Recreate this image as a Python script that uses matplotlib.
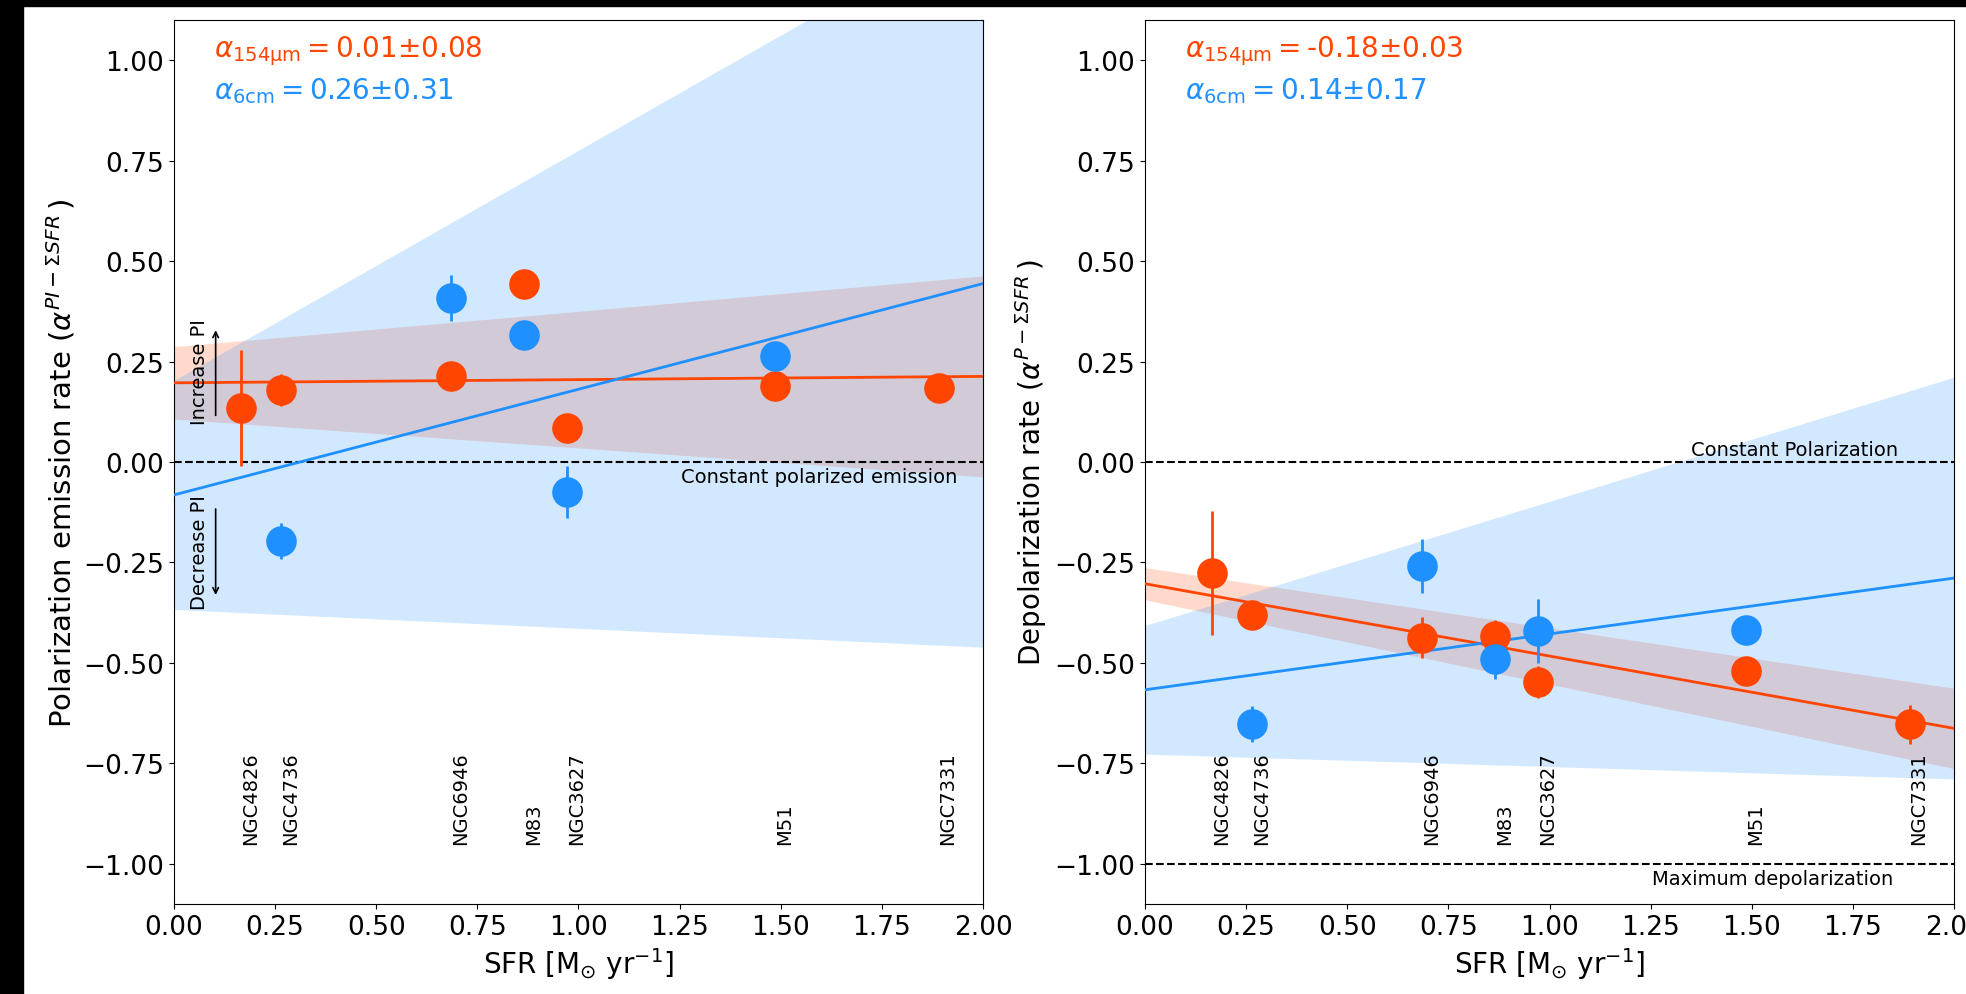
import numpy as np
import matplotlib
matplotlib.use("Agg")
import matplotlib.pyplot as plt
from matplotlib.patches import Rectangle

# galaxies and star formation rates
galaxies = ["NGC4826", "NGC4736", "NGC6946", "M83", "NGC3627", "M51", "NGC7331"]
sfr = [0.165, 0.265, 0.685, 0.866, 0.971, 1.486, 1.89]

# panel 1: polarization emission rate
pi_154_sfr = [0.165, 0.265, 0.685, 0.866, 0.971, 1.486, 1.89]
pi_154 = [0.134, 0.180, 0.215, 0.443, 0.084, 0.189, 0.183]
pi_154_err = [0.145, 0.04, 0.025, 0.02, 0.02, 0.02, 0.02]
pi_6_sfr = [0.265, 0.685, 0.866, 0.971, 1.486]
pi_6 = [-0.197, 0.408, 0.315, -0.074, 0.264]
pi_6_err = [0.045, 0.058, 0.02, 0.065, 0.02]

# panel 2: depolarization rate
p_154_sfr = [0.165, 0.265, 0.685, 0.866, 0.971, 1.486, 1.89]
p_154 = [-0.277, -0.381, -0.437, -0.434, -0.548, -0.519, -0.653]
p_154_err = [0.154, 0.03, 0.05, 0.04, 0.04, 0.03, 0.048]
p_6_sfr = [0.265, 0.685, 0.866, 0.971, 1.486]
p_6 = [-0.653, -0.259, -0.491, -0.420, -0.419]
p_6_err = [0.045, 0.068, 0.05, 0.08, 0.02]

# fits: slope, slope error, intercept, intercept error
fit_pi_154 = (0.008, 0.08, 0.197, 0.09)
fit_pi_6 = (0.263, 0.31, -0.082, 0.285)
fit_p_154 = (-0.18, 0.03, -0.303, 0.04)
fit_p_6 = (0.139, 0.17, -0.567, 0.16)

label_pi_154 = "0.01\u00b10.08"
label_pi_6 = "0.26\u00b10.31"
label_p_154 = "-0.18\u00b10.03"
label_p_6 = "0.14\u00b10.17"

orange = "#FF4500"
blue = "#1E90FF"

fig = plt.figure(figsize=(19.66, 9.95), dpi=100)
ax1 = fig.add_axes([0.0885, 0.0905, 0.4115, 0.8884])
ax2 = fig.add_axes([0.5824, 0.0905, 0.4115, 0.8884])

xx = np.linspace(0, 2, 200)


def draw_panel(ax, x154, y154, e154, x6, y6, e6, f154, f6, t154, t6):
    m, dm, b, db = f154
    ax.fill_between(xx, (b + db) + (m + dm) * xx, (b - db) + (m - dm) * xx,
                    color=orange, alpha=0.2, lw=0, zorder=1)
    m6, dm6, b6, db6 = f6
    ax.fill_between(xx, (b6 + db6) + (m6 + dm6) * xx, (b6 - db6) + (m6 - dm6) * xx,
                    color=blue, alpha=0.2, lw=0, zorder=1.5)
    ax.plot(xx, b + m * xx, color=orange, lw=2, zorder=3)
    ax.plot(xx, b6 + m6 * xx, color=blue, lw=2, zorder=3)
    ax.errorbar(x154, y154, yerr=e154, fmt="o", color=orange, ms=21, elinewidth=2,
                capsize=0, zorder=4)
    ax.errorbar(x6, y6, yerr=e6, fmt="o", color=blue, ms=21, elinewidth=2,
                capsize=0, zorder=4)
    ax.axhline(0, color="k", ls="--", lw=1.5, zorder=2)
    for g, s in zip(galaxies, sfr):
        ax.text(s, -0.95, g, rotation=90, ha="left", va="bottom", fontsize=14)
    ax.text(0.1, 1.025, r"$\alpha_{\mathrm{154\mu m}} = $" + t154, color=orange,
            fontsize=20, va="center")
    ax.text(0.1, 0.925, r"$\alpha_{\mathrm{6cm}} = $" + t6, color=blue,
            fontsize=20, va="center")
    ax.set_xlim(0, 2)
    ax.set_ylim(-1.1, 1.1)
    ax.set_xticks(np.arange(0, 2.01, 0.25))
    ax.set_yticks(np.arange(-1, 1.01, 0.25))
    ax.tick_params(labelsize=19)
    ax.set_xlabel(r"SFR [M$_{\odot}$ yr$^{-1}$]", fontsize=20)


draw_panel(ax1, pi_154_sfr, pi_154, pi_154_err, pi_6_sfr, pi_6, pi_6_err,
           fit_pi_154, fit_pi_6, label_pi_154, label_pi_6)
draw_panel(ax2, p_154_sfr, p_154, p_154_err, p_6_sfr, p_6, p_6_err,
           fit_p_154, fit_p_6, label_p_154, label_p_6)

ax1.set_ylabel(r"Polarization emission rate ($\alpha^{PI-\Sigma SFR}\,$)", fontsize=21)
ax2.set_ylabel(r"Depolarization rate ($\alpha^{P-\Sigma SFR}\,$)", fontsize=20)

ax1.text(1.254, -0.012, "Constant polarized emission", ha="left", va="top", fontsize=14)
ax1.annotate("", xy=(0.103, 0.335), xytext=(0.103, 0.109),
             arrowprops=dict(arrowstyle="->", color="k", lw=1.2))
ax1.text(0.063, 0.095, "Increase PI", rotation=90, ha="center", va="bottom", fontsize=14)
ax1.annotate("", xy=(0.103, -0.338), xytext=(0.103, -0.11),
             arrowprops=dict(arrowstyle="->", color="k", lw=1.2))
ax1.text(0.063, -0.08, "Decrease PI", rotation=90, ha="center", va="top", fontsize=14)

ax2.axhline(-1, color="k", ls="--", lw=1.5, zorder=2)
ax2.text(1.351, 0.008, "Constant Polarization", ha="left", va="bottom", fontsize=14)
ax2.text(1.254, -1.012, "Maximum depolarization", ha="left", va="top", fontsize=14)

# black border on the left and top edges of the picture
fig.patches.append(Rectangle((0, 0), 23 / 1966, 1, transform=fig.transFigure,
                             color="k", zorder=10))
fig.patches.append(Rectangle((0, 1 - 7 / 995), 1, 7 / 995, transform=fig.transFigure,
                             color="k", zorder=10))

fig.savefig("out.png", dpi=100)
